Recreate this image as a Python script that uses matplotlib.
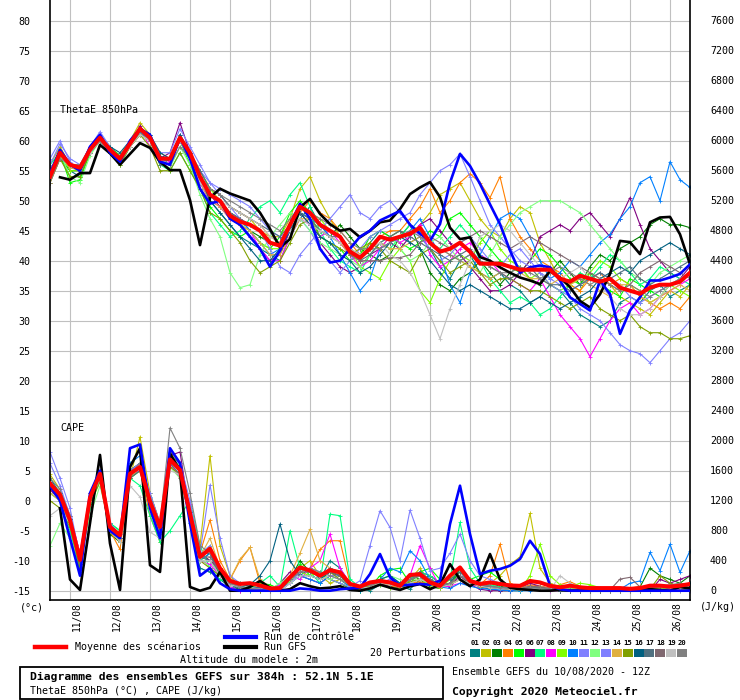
import numpy as np
import matplotlib
matplotlib.use("Agg")
import matplotlib.pyplot as plt
from matplotlib.lines import Line2D
from matplotlib.patches import Rectangle

plt.rcParams['font.family'] = ['DejaVu Sans Mono']

###########################################################################################################
# data : 65 steps of 6h from 10/08 12Z (384h)
hours = np.arange(0, 385, 6)
days = ['11/08', '12/08', '13/08', '14/08', '15/08', '16/08', '17/08', '18/08',
        '19/08', '20/08', '21/08', '22/08', '23/08', '24/08', '25/08', '26/08']
nan = np.nan

theta_mean = [54, 58, 56, 55.5, 58.5, 60.5, 58.5, 57, 59.5, 62, 60.5, 57, 57,
              60.5, 58, 54, 51, 50, 47.5, 46.5, 46, 45, 43, 42.5, 46, 49,
              48, 46, 45, 44, 41.5, 40.5, 42, 44, 43.5, 44, 44.5, 45.5, 43,
              41.5, 42, 43, 41.5, 39.5, 39.5, 39.5, 39, 38.5, 38.5, 38.5, 38.5, 37,
              36.5, 37.5, 37, 36.5, 37, 35.5, 35, 34.5, 35.5, 36, 36, 36.5, 38]
theta_ctrl = [54.5, 58.5, 56, 55, 59, 61, 58, 56.5, 60, 62, 61, 56.5, 56,
              60.5, 57, 52, 49.5, 50, 47, 46, 44, 42, 39, 41.7, 46, 49.5,
              47, 42, 39.7, 40, 42, 44, 45, 46.7, 47.5, 48.3, 46, 44.5, 43.3,
              46.1, 53, 57.8, 55.8, 52.8, 49.4, 46.1, 41.7, 38, 38.9, 39.2, 38.9, 36.7,
              33.9, 32.8, 31.7, 36.7, 34.4, 27.8, 31.7, 33.9, 36.7, 36.7, 37.2, 37.8, 39.4]
theta_gfs = [nan, 53.9, 53.5, 54.6, 54.6, 59.3, 57.9, 56, 57.8, 59.6, 58.8, 56.5, 55.1,
             55.1, 50.1, 42.6, 50.5, 52, 51.2, 50.6, 50, 48, 45.3, 42.2, 43.6, 48.9,
             50.3, 47.8, 46.1, 45, 45.3, 43.9, 45, 46.4, 46.7, 48.6, 51.1, 52.2, 53.1,
             50.6, 45.5, 43.6, 43.9, 40.6, 40, 38.9, 38, 37.2, 36.7, 36.1, 38.3, 37.2,
             35.6, 33.3, 32.2, 34.4, 37.8, 43.3, 43.1, 41.1, 46.4, 47.2, 47.3, 44.4, 39.4]

cape_mean = [1430, 1280, 940, 410, 1240, 1560, 850, 740, 1560, 1650, 1190, 850, 1750,
             1610, 1030, 450, 560, 300, 130, 90, 100, 70, 30, 35, 180, 310,
             270, 200, 275, 245, 90, 55, 110, 130, 110, 65, 210, 220, 110,
             65, 200, 310, 130, 90, 110, 90, 70, 65, 130, 110, 65, 45,
             67, 45, 35, 35, 35, 35, 25, 35, 67, 67, 55, 67, 90]
cape_ctrl = [1400, 1200, 700, 200, 1300, 1600, 800, 700, 1900, 1950, 1100, 700, 1900,
             1700, 900, 200, 300, 100, 20, 0, 0, 0, 0, 0, 0, 30,
             20, 0, 0, 20, 30, 40, 222, 489, 178, 67, 80, 90, 80,
             133, 888, 1400, 755, 222, 266, 289, 333, 422, 666, 489, 67, 20,
             0, 0, 0, 0, 0, 0, 0, 0, 0, 0, 0, 0, 0]
cape_gfs = [nan, 1100, 150, 10, 900, 1810, 630, 10, 1650, 1900, 340, 250, 1830,
            1600, 50, 0, 40, 250, 0, 0, 50, 130, 40, 0, 20, 100,
            60, 30, 40, 60, 10, 0, 30, 80, 40, 10, 60, 89, 20,
            80, 355, 150, 60, 150, 489, 150, 40, 20, 10, 0, 0, 10,
            0, 0, 0, 0, 0, 0, 0, 10, 20, 10, 0, 50, 30]

# 20 perturbations, ThetaE 850hPa (C)
p01_theta = [55, 58.5, 55, 54, 58, 61, 58, 56, 59, 62, 60, 57.5, 56.5,
             60, 57, 53, 50, 48, 46, 44, 43, 42, 41, 40, 44, 47,
             49, 46, 44, 43, 41, 40, 43, 45, 44, 45, 43, 44, 42,
             39, 37, 40, 41, 38, 37, 38, 36, 35, 33, 34, 36, 35,
             33, 31, 30, 29, 30, 33, 34, 33, 35, 36, 34, 35, 36]
p02_theta = [56, 59, 56, 55, 59, 61, 58, 57, 60, 63, 61, 57, 56,
             61, 58, 55, 52, 51, 49, 48, 47, 45, 44, 44, 47, 52,
             54, 50, 47, 44, 42, 41, 43, 42, 44, 45, 44, 46, 48,
             51, 52, 53, 50, 47, 45, 44, 47, 49, 48, 43, 40, 37,
             36, 35, 38, 37, 36, 34, 33, 32, 31, 33, 35, 34, 36]
p03_theta = [54, 57, 55, 55, 58, 60, 59, 57, 59, 61, 60, 56, 57,
             60, 58, 54, 51, 50, 48, 47, 45, 44, 43, 43, 45, 48,
             47, 45, 44, 46, 44, 42, 41, 40, 41, 44, 46, 42, 38,
             36, 35, 37, 38, 40, 38, 36, 38, 39, 37, 36, 38, 40,
             38, 36, 39, 41, 40, 42, 43, 44, 46, 47, 46, 46, 45.5]
p04_theta = [53, 57, 56, 56, 58, 60, 59, 56.5, 59, 61, 61, 58, 57,
             61, 58, 55, 52, 51, 49, 48, 47, 46, 44, 43, 45, 48,
             50, 48, 47, 45, 43, 41, 42, 44, 45, 45, 47, 49, 52,
             48, 50, 53, 54.5, 53, 50.5, 54, 47, 44, 42, 40, 39, 38,
             36, 35, 37, 38, 36, 37, 36, 34, 33, 32, 33, 32, 34]
p05_theta = [55, 58, 53, 53.5, 58, 61, 59, 57.5, 60, 62, 61, 56, 57,
             60, 56, 52, 49, 47, 45, 44, 45, 43, 42, 44, 48, 50,
             48, 44, 43, 42, 40, 41, 44, 45, 44, 43, 42, 43, 45,
             44, 47, 48, 46, 44, 42, 40, 39, 38, 40, 42, 41, 39,
             37, 36, 38, 36, 35, 34, 37, 36, 35, 34, 36, 37, 38]
p06_theta = [54, 57, 56, 55, 59, 60, 58, 57, 59, 62.5, 60, 57, 58,
             63, 58, 54, 51, 49, 47, 46, 44, 42, 40, 41, 45, 48,
             46, 43, 41, 39, 38, 39, 41, 42, 43, 42, 44, 46, 47,
             45, 43, 41, 39, 37, 35, 35, 36, 38, 40, 44, 45, 46,
             45, 47, 48, 46, 44, 47, 50.5, 46, 42, 40, 38, 37, 39]
p07_theta = [56, 58, 54, 54, 59, 61, 58, 56.5, 60, 61.5, 61, 56, 55,
             58, 55, 52, 48, 46, 44, 45, 47, 49, 50, 48, 51, 53,
             49, 45, 42, 40, 39, 38, 41, 43, 42, 44, 46, 45, 43,
             42, 44, 46, 44, 40, 37, 35, 33, 34, 33, 31, 32, 34,
             36, 38, 37, 39, 41, 40, 38, 36, 37, 39, 38, 37, 36]
p08_theta = [55, 58, 56, 56, 58, 60, 58, 57, 60, 62, 59, 57, 56.5,
             60, 57, 53, 50, 49, 47, 46, 45, 42, 40, 40, 44, 47,
             46, 44, 45, 43, 41, 39, 40, 42, 44, 43, 44, 46, 41,
             39, 40, 42, 43, 41, 40, 38, 37, 36, 35, 37, 34, 31,
             29, 27, 24, 27, 30, 32, 33, 31, 32, 34, 35, 36, 37]
p09_theta = [54, 58, 55, 55, 58, 61, 59, 57, 59.5, 62, 60, 57, 57,
             60, 58, 55, 52, 50, 48, 46, 45, 43, 42, 42, 46, 49,
             48, 47, 45, 44, 42, 39, 38, 37, 40, 42, 40, 35, 33,
             37, 40, 41, 40, 43, 45, 42, 40, 39, 37, 38, 36, 35,
             36, 37, 38, 40, 39, 37, 36, 35, 33, 34, 36, 35, 34]
p10_theta = [55, 58, 56, 55, 58.5, 60.5, 58, 57, 59, 61.5, 60, 56.5, 57,
             60, 57, 54, 51, 50, 48, 47, 45, 43, 41, 42, 45, 48,
             47, 46, 44, 41, 38, 35, 37, 42, 43, 44, 45, 47, 44,
             41, 36, 33, 38, 41, 44, 47, 48, 47, 44, 40, 37, 38,
             40, 39, 41, 43, 44.4, 47, 49, 53, 54, 50, 56.5, 53.5, 52.2]
p11_theta = [56, 59.5, 57, 56, 59, 61, 59, 57, 60, 62, 61, 58, 58,
             62, 59, 56, 53, 52, 51, 50, 49, 47, 45, 44, 45, 47,
             45, 42, 40, 38, 40, 42, 44, 45, 46, 47, 48, 51, 53,
             55, 56, 57.8, 54, 50, 46, 44, 42, 40, 39, 38, 37, 36,
             35, 36, 37, 38, 37, 36, 34, 33, 34, 35, 36, 37, 38]
p12_theta = [55, 58, 54, 53, 57.5, 60, 58, 56, 59, 61, 60, 56, 55.5,
             59, 56, 51, 47, 44, 38, 35.5, 36, 41, 44, 46, 48, 47,
             45, 43, 42, 41, 40, 39, 41, 43, 44, 42, 40, 41, 43,
             44, 42, 40, 39, 38, 41, 44, 46, 48, 49, 50, 50, 50,
             49, 48, 46, 44, 42, 40, 38, 37, 36, 38, 39, 40, 41]
p13_theta = [57, 60, 56.5, 55, 59, 61.5, 59, 57, 60, 62, 61, 57, 57,
             61, 58, 55, 53, 51, 49, 47, 46, 45, 42, 39, 38, 41,
             43, 45, 47, 49, 51, 48, 47, 49, 50, 48, 46, 44, 42,
             40, 41, 43, 44, 42, 40, 39, 41, 42, 40, 38, 36, 35,
             34, 32, 31, 30, 28, 26, 25, 24.5, 23, 25, 27, 28, 30]
p14_theta = [54, 57.5, 55.5, 55, 58, 60, 58.5, 57, 59, 61, 60, 57, 57,
             60, 57, 53, 50, 49, 47, 46, 45, 43, 41, 41, 44, 47,
             47, 45, 44, 43, 41, 40, 42, 43, 42, 42, 43, 44, 43,
             42, 41, 40, 39, 38, 37, 38, 37, 38, 37, 37, 36, 37,
             36, 37, 36, 35, 34, 36, 36, 34, 33, 34, 35, 36, 35]
p15_theta = [53, 57, 54, 54, 58, 60, 58, 56, 59, 61, 59, 55, 55,
             58, 55, 52, 48, 47, 45, 43, 40, 38, 39, 40, 43, 46,
             47, 44, 43, 42, 41, 42, 43, 42, 40, 39, 38, 41, 42,
             40, 38, 39, 40, 38, 36, 37, 37, 36, 35, 35, 34, 33,
             32, 33, 34, 32, 31, 30, 31, 29, 28, 28, 27, 27, 27.5]
p16_theta = [54, 58, 56, 55, 58, 60, 59, 58, 60, 62, 61, 58, 57,
             61, 58, 54, 50, 48, 46, 44, 42, 40, 40, 42, 45, 48,
             46, 44, 43, 41, 40, 38, 39, 41, 43, 44, 43, 42, 40,
             38, 36, 35, 36, 35, 34, 33, 32, 32, 33, 34, 33, 32,
             33, 34, 35, 37, 38, 39, 38, 40, 41, 42, 43, 42, 41]
p17_theta = [55, 58, 56, 56, 58.5, 60, 58, 57, 59, 61.5, 60, 56, 57,
             60, 58, 55, 52, 51, 49, 48, 47, 46, 45, 44, 46, 48,
             47, 45, 44, 44, 42, 40, 41, 43, 44, 45, 44, 43, 42,
             41, 40, 41, 42, 40, 39, 38, 37, 38, 39, 37, 36, 36,
             35, 36, 37, 38, 37, 38, 39, 37, 36, 37, 38, 39, 40]
p18_theta = [54, 58, 56, 55, 58, 60.5, 58.5, 57, 59.5, 62, 60, 57, 57,
             60, 57, 53, 51, 50, 48, 47, 46, 45, 43, 43, 46, 49,
             48, 46, 45, 44, 41, 40, 40, 40, 40.5, 40.5, 41, 43, 44,
             43, 42, 43, 44, 45, 44, 43, 42, 43, 44, 43, 42, 41,
             40, 39, 38, 37, 36, 35, 36, 38, 39, 40, 39, 38, 37]
p19_theta = [55, 58, 56, 55.5, 58, 60, 58, 56.5, 59, 61, 60, 57, 56,
             60, 57, 53, 51, 50, 49, 48, 47, 46, 44, 43, 45, 47,
             46, 45, 44, 43, 42, 41, 42, 43, 41, 40, 38, 35, 31,
             27, 32, 36, 40, 44, 45, 46, 45, 43, 41, 39, 38, 37,
             38, 39, 37, 36, 34, 32, 31, 31, 32, 34, 36, 37, 38]
p20_theta = [53, 57, 56, 56, 59, 60, 58, 57.5, 60, 62, 60, 56.5, 56,
             59, 57, 54, 52, 51, 50, 49, 48, 47, 46, 45, 47, 49,
             48, 47, 46, 45, 43, 42, 42, 42, 43, 44, 45, 44, 43,
             42, 41, 40, 41, 40, 39, 38, 38, 39, 38, 37, 38, 39,
             38, 37, 36, 37, 36, 35, 36, 35, 34, 35, 36, 37, 38]

# 20 perturbations, CAPE (J/kg)
p01_cape = [1500, 1300, 900, 300, 1300, 1600, 900, 700, 1600, 1700, 1300, 900, 1800,
            1700, 900, 300, 250, 150, 50, 20, 0, 0, 0, 0, 100, 200,
            300, 150, 400, 300, 100, 20, 0, 80, 120, 50, 20, 150, 200,
            100, 50, 300, 150, 50, 20, 0, 0, 0, 30, 50, 20, 0,
            0, 0, 0, 0, 0, 0, 0, 10, 0, 20, 50, 60, 100]
p02_cape = [1550, 1350, 1000, 450, 1200, 1600, 800, 700, 1500, 2050, 1300, 900, 1850,
            1700, 1100, 600, 1800, 600, 200, 50, 0, 30, 0, 0, 200, 300,
            400, 200, 100, 150, 50, 0, 60, 100, 80, 30, 150, 300, 100,
            50, 100, 200, 100, 50, 100, 200, 350, 450, 1030, 300, 100, 50,
            30, 20, 10, 0, 0, 0, 0, 0, 0, 30, 0, 0, 10]
p03_cape = [1400, 1200, 900, 350, 1150, 1500, 750, 650, 1500, 1650, 1200, 800, 1700,
            1650, 950, 400, 500, 200, 100, 0, 20, 50, 0, 0, 150, 400,
            250, 200, 150, 100, 30, 0, 50, 120, 100, 80, 200, 150, 50,
            30, 100, 250, 150, 80, 100, 60, 30, 20, 50, 40, 20, 10,
            0, 20, 0, 0, 0, 10, 0, 50, 300, 200, 150, 100, 200]
p04_cape = [1350, 1250, 1000, 500, 1300, 1500, 800, 550, 1550, 1600, 1000, 650, 1700,
            1500, 1000, 500, 943, 400, 150, 400, 577, 100, 0, 50, 150, 250,
            300, 550, 666, 666, 100, 50, 30, 100, 60, 40, 100, 120, 80,
            40, 100, 200, 100, 80, 200, 620, 100, 30, 80, 60, 30, 80,
            120, 60, 40, 0, 0, 0, 30, 60, 40, 20, 30, 20, 10]
p05_cape = [1450, 1300, 850, 250, 1250, 1550, 900, 800, 1600, 1700, 1200, 900, 1800,
            1650, 1100, 500, 400, 200, 100, 50, 30, 100, 80, 20, 150, 350,
            200, 150, 250, 200, 50, 0, 50, 200, 280, 300, 100, 250, 300,
            150, 60, 300, 150, 200, 250, 150, 60, 30, 20, 40, 10, 0,
            10, 0, 20, 0, 0, 0, 0, 30, 0, 40, 50, 30, 20]
p06_cape = [1350, 1200, 950, 500, 1200, 1550, 850, 700, 1600, 1700, 1200, 800, 1800,
            1850, 1000, 500, 400, 300, 150, 100, 50, 20, 0, 100, 250, 200,
            150, 100, 200, 220, 80, 30, 60, 100, 50, 30, 150, 250, 200,
            100, 50, 200, 80, 20, 0, 0, 0, 40, 100, 60, 30, 20,
            0, 0, 0, 0, 0, 0, 0, 0, 0, 150, 100, 150, 200]
p07_cape = [1300, 1200, 800, 300, 1100, 1500, 900, 800, 1500, 1400, 1000, 650, 800,
            1000, 1200, 600, 300, 150, 100, 50, 20, 100, 200, 50, 800, 300,
            250, 100, 1020, 1000, 150, 50, 80, 150, 200, 100, 150, 250, 200,
            100, 150, 910, 300, 100, 80, 50, 30, 0, 20, 40, 30, 20,
            0, 0, 30, 0, 0, 0, 0, 0, 0, 20, 20, 40, 30]
p08_cape = [1450, 1300, 1000, 500, 1300, 1550, 850, 750, 1550, 1600, 1150, 850, 1700,
            1500, 1150, 400, 350, 200, 50, 0, 30, 0, 0, 80, 200, 150,
            300, 400, 755, 300, 100, 50, 80, 100, 150, 50, 200, 600, 300,
            50, 60, 100, 80, 60, 40, 30, 20, 10, 30, 20, 0, 0,
            0, 0, 0, 0, 10, 0, 0, 0, 0, 20, 20, 30, 40]
p09_cape = [1400, 1250, 950, 400, 1250, 1600, 850, 700, 1550, 1650, 1200, 850, 1750,
            1600, 1050, 450, 600, 300, 100, 50, 40, 100, 50, 0, 120, 250,
            200, 250, 150, 100, 50, 20, 60, 80, 40, 30, 100, 150, 80,
            40, 150, 300, 150, 80, 60, 40, 20, 10, 200, 620, 200, 80,
            50, 100, 80, 40, 20, 0, 0, 0, 0, 20, 30, 50, 80]
p10_cape = [1400, 1250, 900, 350, 1200, 1550, 800, 700, 1700, 1800, 1250, 850, 1700,
            1650, 1000, 400, 500, 250, 80, 30, 0, 20, 0, 30, 100, 200,
            150, 100, 200, 150, 50, 0, 100, 150, 300, 250, 533, 400, 150,
            50, 30, 100, 60, 30, 20, 10, 0, 0, 0, 30, 20, 0,
            0, 0, 0, 0, 0, 20, 100, 130, 510, 266, 620, 244, 533]
p11_cape = [1850, 1500, 1100, 450, 1300, 1600, 900, 750, 1600, 1700, 1300, 900, 1750,
            1700, 1200, 500, 1409, 700, 200, 100, 50, 30, 0, 50, 150, 300,
            250, 200, 150, 100, 50, 133, 600, 1066, 844, 400, 1075, 700, 266,
            300, 500, 755, 400, 200, 150, 100, 80, 50, 30, 20, 10, 0,
            0, 0, 0, 0, 0, 0, 0, 0, 0, 10, 20, 50, 100]
p12_cape = [600, 900, 700, 400, 1000, 1400, 850, 700, 1500, 1600, 1100, 800, 1650,
            1500, 1000, 450, 300, 200, 150, 100, 50, 0, 20, 100, 200, 300,
            250, 200, 150, 200, 100, 50, 100, 150, 200, 150, 100, 200, 150,
            100, 200, 300, 150, 100, 120, 80, 60, 40, 30, 20, 30, 50,
            40, 30, 20, 10, 0, 0, 0, 0, 0, 30, 60, 80, 100]
p13_cape = [1700, 1400, 1000, 350, 1200, 1500, 850, 700, 1500, 1650, 1200, 850, 1700,
            1600, 1100, 500, 600, 300, 100, 50, 30, 0, 0, 0, 100, 250,
            300, 250, 200, 200, 100, 30, 50, 100, 150, 100, 150, 200, 150,
            80, 100, 200, 150, 100, 60, 40, 30, 20, 60, 40, 20, 10,
            0, 0, 0, 0, 0, 0, 0, 0, 0, 0, 0, 0, 0]
p14_cape = [1300, 1200, 900, 350, 1200, 1500, 800, 650, 1500, 1650, 1150, 800, 1700,
            1600, 1000, 450, 700, 300, 150, 422, 577, 150, 50, 20, 200, 500,
            820, 400, 300, 200, 100, 50, 100, 150, 100, 50, 150, 200, 100,
            50, 80, 150, 100, 60, 100, 80, 60, 40, 50, 60, 30, 20,
            10, 0, 0, 0, 0, 0, 0, 0, 20, 40, 60, 40, 30]
p15_cape = [1200, 1100, 850, 300, 1150, 1450, 800, 650, 1500, 1600, 1100, 750, 1650,
            1550, 950, 400, 300, 200, 100, 50, 30, 0, 0, 50, 150, 300,
            250, 200, 250, 150, 80, 40, 60, 100, 80, 60, 120, 150, 100,
            60, 80, 150, 100, 60, 40, 30, 20, 10, 30, 20, 10, 0,
            0, 0, 0, 0, 0, 0, 0, 0, 20, 200, 100, 50, 30]
p16_cape = [1450, 1300, 950, 400, 1250, 1550, 850, 700, 1550, 1650, 1200, 850, 1750,
            1650, 1050, 500, 500, 300, 100, 50, 80, 200, 400, 888, 400, 200,
            200, 150, 250, 200, 80, 30, 100, 150, 200, 100, 150, 200, 100,
            50, 100, 300, 100, 60, 50, 30, 20, 10, 30, 20, 10, 0,
            0, 0, 0, 0, 0, 0, 0, 0, 0, 0, 30, 80, 100]
p17_cape = [1400, 1250, 950, 350, 1200, 1500, 800, 700, 1500, 1600, 1150, 800, 1700,
            1550, 1000, 450, 400, 250, 80, 30, 20, 50, 30, 0, 150, 300,
            250, 200, 300, 250, 100, 50, 100, 150, 120, 80, 200, 250, 150,
            80, 150, 250, 100, 80, 60, 40, 30, 20, 50, 40, 20, 0,
            0, 0, 0, 0, 0, 0, 0, 10, 30, 60, 50, 30, 20]
p18_cape = [1400, 1250, 900, 350, 1250, 1550, 850, 700, 1550, 1650, 1200, 850, 1750,
            1600, 1000, 450, 450, 250, 100, 50, 30, 20, 0, 30, 150, 250,
            250, 200, 250, 200, 100, 50, 80, 120, 100, 80, 150, 200, 150,
            80, 100, 200, 100, 80, 120, 80, 50, 30, 60, 50, 30, 20,
            20, 10, 10, 10, 10, 155, 178, 50, 20, 10, 30, 40, 60]
p19_cape = [1000, 1100, 900, 500, 1200, 1500, 800, 650, 1400, 1250, 780, 700, 1600,
            1550, 1000, 400, 400, 200, 80, 50, 30, 20, 0, 0, 100, 200,
            200, 150, 200, 150, 80, 30, 50, 100, 80, 50, 100, 150, 100,
            50, 80, 150, 100, 60, 40, 30, 20, 10, 30, 20, 10, 200,
            100, 50, 30, 20, 0, 0, 0, 0, 0, 0, 20, 30, 50]
p20_cape = [1500, 1350, 1000, 450, 1300, 1600, 850, 750, 1550, 1700, 1200, 900, 2170,
            1900, 1300, 600, 500, 300, 100, 50, 30, 20, 0, 30, 150, 250,
            300, 250, 200, 150, 80, 40, 80, 120, 100, 60, 150, 200, 100,
            60, 100, 200, 120, 80, 60, 40, 30, 20, 40, 30, 20, 10,
            0, 0, 0, 0, 0, 0, 0, 0, 20, 60, 80, 100, 60]

pert_colors = ['#008080', '#c0c000', '#008000', '#ff8000', '#00ff00', '#800080', '#00ff80',
               '#ff00ff', '#80ff00', '#0080ff', '#8080ff', '#80ff80', '#8080ff', '#e0b040',
               '#80a000', '#006080', '#507080', '#806870', '#c0c0c0', '#808080']

pert_theta = [p01_theta, p02_theta, p03_theta, p04_theta, p05_theta, p06_theta, p07_theta,
              p08_theta, p09_theta, p10_theta, p11_theta, p12_theta, p13_theta, p14_theta,
              p15_theta, p16_theta, p17_theta, p18_theta, p19_theta, p20_theta]
pert_cape = [p01_cape, p02_cape, p03_cape, p04_cape, p05_cape, p06_cape, p07_cape,
             p08_cape, p09_cape, p10_cape, p11_cape, p12_cape, p13_cape, p14_cape,
             p15_cape, p16_cape, p17_cape, p18_cape, p19_cape, p20_cape]

###########################################################################################################
# CAPE is drawn on the same axis : 0 J/kg at -15, 80 J/kg per degree
def cape_pos(c):
	return -15 + np.asarray(c, dtype=float) / 80.

W, H = 740., 700.
def fx(x):
	return x / W
def fy(y):
	return 1 - y / H

fs = 7.2
fig = plt.figure(figsize=(7.4, 7.0), dpi=100)
ax = fig.add_axes([fx(50), fy(600), 640 / W, 600 / H])
ax.set_xlim(0, 384)
ax.set_ylim(-16.55, 83.45)

day_hours = np.arange(12, 384, 24)
ax.set_xticks(day_hours)
ax.set_xticklabels([])
ax.set_yticks(np.arange(-15, 81, 5))
ax.set_yticklabels([str(v) for v in range(-15, 81, 5)], fontsize=fs)
ax.tick_params(length=0, pad=14)
ax.grid(color='#c0c0c0', lw=0.8, zorder=0)
ax.set_axisbelow(True)
ax.spines['top'].set_visible(False)
for s in ['left', 'right', 'bottom']:
	ax.spines[s].set_linewidth(1.2)
	ax.spines[s].set_color('black')

# right axis labels (J/kg)
for k in range(20):
	ax.text(1 + 20 / 640., -15 + 5 * k, str(400 * k), transform=ax.get_yaxis_transform(),
	        ha='left', va='center', fontsize=fs)

# date labels
for h, d in zip(day_hours, days):
	ax.text(h + 4.3, -0.004, d, transform=ax.get_xaxis_transform(), rotation=90,
	        ha='center', va='top', fontsize=6.9)

# perturbations
for vals, col in zip(pert_theta, pert_colors):
	ax.plot(hours, vals, color=col, lw=0.8, marker='+', ms=3, mew=0.6, zorder=2)
for vals, col in zip(pert_cape, pert_colors):
	ax.plot(hours, cape_pos(vals), color=col, lw=0.8, marker='+', ms=3, mew=0.6, zorder=2)

# GFS, control, mean
ax.plot(hours, theta_gfs, color='black', lw=1.9, zorder=3)
ax.plot(hours, cape_pos(cape_gfs), color='black', lw=1.9, zorder=3)
ax.plot(hours, theta_ctrl, color='#0000ff', lw=1.9, zorder=4)
ax.plot(hours, cape_pos(cape_ctrl), color='#0000ff', lw=1.9, zorder=4)
ax.plot(hours, theta_mean, color='#ff0000', lw=2.9, zorder=5)
ax.plot(hours, cape_pos(cape_mean), color='#ff0000', lw=2.9, zorder=5)

fig.text(fx(60), fy(110), 'ThetaE 850hPa', fontsize=fs, va='center')
fig.text(fx(60), fy(428), 'CAPE', fontsize=fs, va='center')
fig.text(fx(20), fy(607), '(°c)', fontsize=fs, va='center')
fig.text(fx(700), fy(607), '(J/kg)', fontsize=fs, va='center')

# legend
fig.add_artist(Line2D([fx(35), fx(66)], [fy(647), fy(647)], color='#ff0000', lw=3.2))
fig.text(fx(75), fy(647), 'Moyenne des scénarios', fontsize=fs, va='center')
fig.add_artist(Line2D([fx(225), fx(256)], [fy(637), fy(637)], color='#0000ff', lw=3.0))
fig.text(fx(264), fy(637), 'Run de contrôle', fontsize=fs, va='center')
fig.add_artist(Line2D([fx(225), fx(256)], [fy(647), fy(647)], color='black', lw=3.0))
fig.text(fx(264), fy(647), 'Run GFS', fontsize=fs, va='center')
fig.text(fx(249), fy(660), 'Altitude du modele : 2m', fontsize=fs, va='center', ha='center')
fig.text(fx(370), fy(653), '20 Perturbations', fontsize=fs, va='center')
for k, col in enumerate(pert_colors):
	x0 = 470 + 10.9 * k
	fig.add_artist(Rectangle((fx(x0), fy(657)), 10 / W, 8 / H, transform=fig.transFigure,
	                         facecolor=col, edgecolor='none'))
	fig.text(fx(x0 + 5), fy(643), '%02d' % (k + 1), fontsize=5.2, ha='center', va='center',
	         fontweight='bold')

# bottom boxes
fig.add_artist(Rectangle((fx(20), fy(699)), 423 / W, 32 / H, transform=fig.transFigure,
                         facecolor='none', edgecolor='black', lw=1.3))
fig.text(fx(30), fy(677), 'Diagramme des ensembles GEFS sur 384h : 52.1N 5.1E', fontsize=8.2,
         fontweight='bold', va='center')
fig.text(fx(30), fy(691), 'ThetaE 850hPa (°C) , CAPE (J/kg)', fontsize=fs, va='center')
fig.text(fx(452), fy(672), 'Ensemble GEFS du 10/08/2020 - 12Z', fontsize=fs, va='center')
fig.text(fx(452), fy(692), 'Copyright 2020 Meteociel.fr', fontsize=8.2, fontweight='bold',
         va='center')

plt.savefig('out.png', dpi=100)
plt.close()
